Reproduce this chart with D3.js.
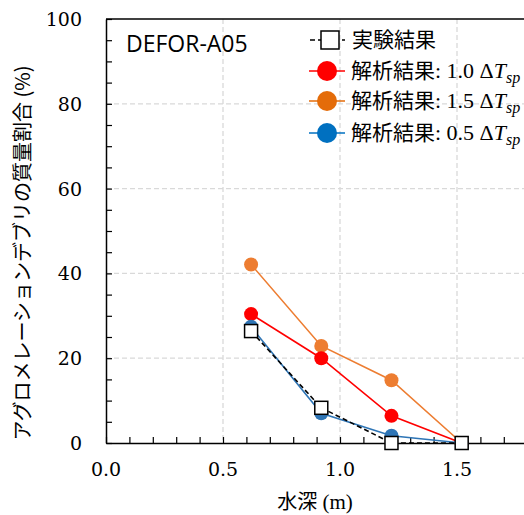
<!DOCTYPE html>
<html><head><meta charset="utf-8">
<script src="https://cdn.jsdelivr.net/npm/d3@7"></script>
<style>body{margin:0;background:#fff}</style>
</head><body>
<svg id="c" width="524" height="515"></svg>
<script>
const depth = [0.62, 0.92, 1.22, 1.52];
const expValues = [26.4, 8.3, 0, 0];
const sim10 = [30.4, 20.0, 6.4, 0];
const sim15 = [42.1, 22.9, 14.8, 0];
const sim05 = [27.4, 7.0, 1.7, 0];
const xTicks = [0.0, 0.5, 1.0, 1.5];
const yTicks = [0, 20, 40, 60, 80, 100];
const labels = {exp:"実験結果", sim:"解析結果", title:"DEFOR-A05", x:"水深", xUnit:" (m)", y:"アグロメレーションデブリの質量割合 (%)"};

const svg = d3.select("#c");
const L=106, T=19, B=443;
const x = d3.scaleLinear().domain([0,1.8]).range([L, L+234*1.8]);
const y = d3.scaleLinear().domain([0,100]).range([B, T]);
const serif = "'DejaVu Serif', serif";
const lserif = "'Liberation Serif', serif";
const cjk = "'Noto Sans CJK JP', sans-serif";

// grid
const g = svg.append("g");
g.selectAll(".gx").data([0.5,1.0,1.5]).join("line")
  .attr("x1",d=>x(d)).attr("x2",d=>x(d)).attr("y1",T).attr("y2",B)
  .attr("stroke","#d9d9d9").attr("stroke-width",1.3).attr("stroke-dasharray","5,3");
g.selectAll(".gy").data([20,40,60,80]).join("line")
  .attr("x1",L).attr("x2",524).attr("y1",d=>y(d)).attr("y2",d=>y(d))
  .attr("stroke","#d9d9d9").attr("stroke-width",1.3).attr("stroke-dasharray","5,3");

// axes
const xAxis = d3.axisBottom(x).tickValues(d3.range(0,18).map(i=>i/10)).tickSizeInner(-6).tickSizeOuter(0).tickFormat("");
svg.append("g").attr("transform",`translate(0,${B})`).call(xAxis)
  .call(a=>{a.select(".domain").attr("stroke","#000").attr("stroke-width",1.5);a.selectAll("line").attr("stroke","#000").attr("stroke-width",1.2);});
const yAxis = d3.axisLeft(y).tickValues(d3.range(0,101,5)).tickSizeInner(-6).tickSizeOuter(0).tickFormat("");
svg.append("g").attr("transform",`translate(${L},0)`).call(yAxis)
  .call(a=>{a.select(".domain").attr("stroke","#000").attr("stroke-width",1.5);a.selectAll("line").attr("stroke","#000").attr("stroke-width",1.2);});
svg.append("line").attr("x1",L).attr("x2",524).attr("y1",T).attr("y2",T).attr("stroke","#000").attr("stroke-width",1.5);

// tick labels
svg.selectAll(".xl").data(xTicks).join("text").attr("x",d=>x(d)).attr("y",476)
  .attr("text-anchor","middle").attr("font-family",serif).attr("font-size",19).text(d=>d.toFixed(1));
svg.selectAll(".yl").data(yTicks).join("text").attr("x",82).attr("y",d=>y(d)+7)
  .attr("text-anchor","end").attr("font-family",serif).attr("font-size",19).text(d=>d);

// titles
const xt = svg.append("text").attr("x",315).attr("y",509).attr("text-anchor","middle").attr("font-size",20);
xt.append("tspan").attr("font-family",cjk).text(labels.x);
xt.append("tspan").attr("font-family",lserif).attr("font-size",21).text(labels.xUnit);
svg.append("text").attr("transform","translate(30,253) rotate(-90)").attr("text-anchor","middle")
  .attr("font-family",cjk).attr("font-size",20).text(labels.y);
svg.append("text").attr("x",126).attr("y",52).attr("font-family","'Open Sans', sans-serif").attr("font-size",23).text(labels.title);

// series
const line = d3.line().x((d,i)=>x(depth[i])).y(d=>y(d));
const series = [
  {v:sim15, c:"#ED7D31"},
  {v:sim10, c:"#FF0000"},
  {v:sim05, c:"#2E75B6"}
];
series.forEach(s=>{
  svg.append("path").attr("d",line(s.v)).attr("fill","none").attr("stroke",s.c).attr("stroke-width",1.6);
  svg.selectAll(null).data(s.v).join("circle").attr("cx",(d,i)=>x(depth[i])).attr("cy",d=>y(d)).attr("r",7).attr("fill",s.c);
});
svg.append("path").attr("d",line(expValues)).attr("fill","none").attr("stroke","#000").attr("stroke-width",1.6).attr("stroke-dasharray","5,3");
svg.selectAll(null).data(expValues).join("rect").attr("x",(d,i)=>x(depth[i])-6.5).attr("y",d=>y(d)-6.5)
  .attr("width",13).attr("height",13).attr("fill","#fff").attr("stroke","#000").attr("stroke-width",1.5);

// legend
const leg = [
  {t:"exp", c:"#000", y:40},
  {t:"1.0", c:"#FF0000", y:71},
  {t:"1.5", c:"#E46C0A", y:101},
  {t:"0.5", c:"#0070C0", y:133}
];
const lg = svg.append("g");
leg.forEach(e=>{
  if(e.t==="exp"){
    lg.append("line").attr("x1",310).attr("x2",345).attr("y1",e.y).attr("y2",e.y).attr("stroke","#000").attr("stroke-width",1.5).attr("stroke-dasharray","5,3");
    lg.append("rect").attr("x",321).attr("y",e.y-9).attr("width",18).attr("height",18).attr("fill","#fff").attr("stroke","#000").attr("stroke-width",1.5);
    lg.append("text").attr("x",352).attr("y",e.y+7).attr("font-family",cjk).attr("font-size",21).text(labels.exp);
  } else {
    lg.append("line").attr("x1",309).attr("x2",345).attr("y1",e.y).attr("y2",e.y).attr("stroke",e.c).attr("stroke-width",1.5);
    lg.append("circle").attr("cx",327).attr("cy",e.y).attr("r",10).attr("fill",e.c);
    const t = lg.append("text").attr("x",351).attr("y",e.y+7).attr("font-size",21);
    t.append("tspan").attr("font-family",cjk).text(labels.sim);
    t.append("tspan").attr("font-family",lserif).attr("font-size",22).text(": " + e.t + " Δ");
    t.append("tspan").attr("font-family",lserif).attr("font-style","italic").attr("font-size",22).text("T");
    t.append("tspan").attr("font-family",lserif).attr("font-style","italic").attr("font-size",16).attr("dy",5).text("sp");
  }
});
</script>
</body></html>
